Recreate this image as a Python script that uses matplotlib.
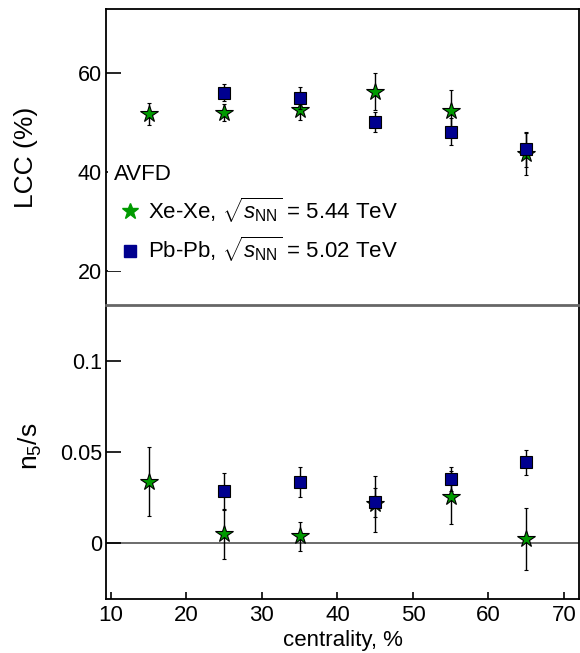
import matplotlib
matplotlib.use('Agg')
import matplotlib.pyplot as plt
from matplotlib.lines import Line2D
import numpy as np

plt.rcParams['font.family'] = ['Liberation Sans', 'DejaVu Sans']
plt.rcParams['mathtext.fontset'] = 'custom'
plt.rcParams['mathtext.rm'] = 'Liberation Sans'
plt.rcParams['mathtext.it'] = 'Liberation Sans:italic'

# data
cent_xe = [15, 25, 35, 45, 55, 65]
cent_pb = [25, 35, 45, 55, 65]

lcc_xe = [51.7, 52.0, 52.6, 56.3, 52.4, 43.7]
lcc_xe_err = [2.2, 1.7, 2.0, 3.7, 4.3, 4.2]
lcc_pb = [56.1, 55.0, 50.2, 48.2, 44.6]
lcc_pb_err = [1.8, 2.2, 2.0, 2.7, 3.6]

n5s_xe = [0.0337, 0.0048, 0.0035, 0.0215, 0.0251, 0.0020]
n5s_xe_err = [0.019, 0.0135, 0.008, 0.0155, 0.0147, 0.017]
n5s_pb = [0.0284, 0.0333, 0.0222, 0.0350, 0.0443]
n5s_pb_err = [0.010, 0.0082, 0.0078, 0.0066, 0.0068]

green = '#009a00'
blue = '#00008f'

fig = plt.figure(figsize=(5.8, 6.53), dpi=100)
ax1 = fig.add_axes([0.1828, 0.5329, 0.8155, 0.4533])
ax2 = fig.add_axes([0.1828, 0.0827, 0.8155, 0.4502], sharex=ax1)

for ax in (ax1, ax2):
    ax.tick_params(axis='y', direction='in', length=11, width=1.2, labelsize=15.5, pad=3)
    ax.tick_params(axis='x', direction='in', length=5, width=1.2, labelsize=16, pad=4)
    for s in ax.spines.values():
        s.set_linewidth(1.3)

# top panel - LCC
ax1.errorbar(cent_xe, lcc_xe, yerr=lcc_xe_err, fmt='*', color=green, mec='k', mew=0.8,
             ms=13, ecolor='k', elinewidth=1, capsize=1.5, zorder=3)
ax1.errorbar(cent_pb, lcc_pb, yerr=lcc_pb_err, fmt='s', color=blue, mec='k', mew=0.8,
             ms=9, ecolor='k', elinewidth=1, capsize=1.5, zorder=4)
ax1.set_ylim(13.1, 73)
ax1.set_yticks([20, 40, 60])
ax1.tick_params(axis='x', bottom=False, labelbottom=False)
ax1.spines['bottom'].set_visible(False)
ax1.set_ylabel('LCC (%)', fontsize=19)
ax1.yaxis.set_label_coords(-0.144, 0.5)

handles = [Line2D([], [], ls='none', marker='*', color=green, ms=12),
           Line2D([], [], ls='none', marker='s', color=blue, ms=9)]
labels = [r'Xe-Xe, $\sqrt{s_{\rm NN}}$ = 5.44 TeV',
          r'Pb-Pb, $\sqrt{s_{\rm NN}}$ = 5.02 TeV']
leg = ax1.legend(handles, labels, title='AVFD', loc='upper left', bbox_to_anchor=(-0.02, 0.535),
                 fontsize=16, title_fontsize=16, frameon=True, fancybox=False,
                 edgecolor='none', framealpha=1, borderpad=0.3, handletextpad=0.1,
                 handlelength=1.4, labelspacing=0.45, alignment='left')
leg.set_zorder(5)

# bottom panel - n5/s
ax2.axhline(0, color='#444444', lw=1.1, zorder=1)
ax2.errorbar(cent_xe, n5s_xe, yerr=n5s_xe_err, fmt='*', color=green, mec='k', mew=0.8,
             ms=13, ecolor='k', elinewidth=1, capsize=1.5, zorder=3)
ax2.errorbar(cent_pb, n5s_pb, yerr=n5s_pb_err, fmt='s', color=blue, mec='k', mew=0.8,
             ms=9, ecolor='k', elinewidth=1, capsize=1.5, zorder=4)
ax2.set_ylim(-0.031, 0.131)
ax2.set_yticks([0, 0.05, 0.1])
ax2.set_yticklabels(['0', '0.05', '0.1'])
ax2.spines['top'].set_color('#666666')
ax2.spines['top'].set_linewidth(2)
ax2.set_ylabel(r'n$_5$/s', fontsize=19)
ax2.yaxis.set_label_coords(-0.131, 0.52)

ax2.set_xlim(9.34, 72.0)
ax2.set_xticks([10, 20, 30, 40, 50, 60, 70])
ax2.set_xlabel('centrality, %', fontsize=16, labelpad=3)

fig.savefig('out.png', dpi=100)
